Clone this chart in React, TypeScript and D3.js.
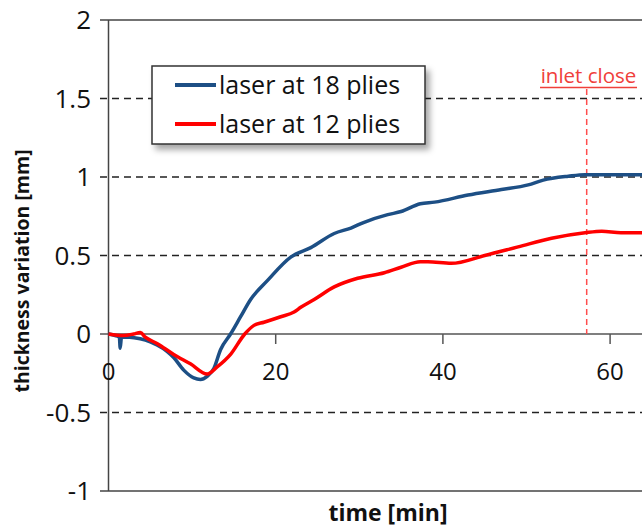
import React from "react";
import * as d3 from "d3";

const blueT = [0, 0.8, 1.3, 1.4, 1.55, 2.5, 3.8, 5, 5.8, 7, 7.8, 9, 10.2, 11, 11.8, 12.6, 13.4, 14.6, 15.8, 17, 19, 21.8, 24.2, 27, 29, 30.5, 33.4, 35, 37.3, 39, 43, 47, 50.2, 52, 55, 57, 60, 62.9, 66];
const blueV = [0, -0.01, -0.02, -0.09, -0.02, -0.02, -0.03, -0.05, -0.07, -0.11, -0.15, -0.23, -0.28, -0.29, -0.27, -0.22, -0.1, 0, 0.11, 0.22, 0.34, 0.49, 0.55, 0.64, 0.675, 0.71, 0.76, 0.78, 0.83, 0.84, 0.885, 0.92, 0.95, 0.98, 1.005, 1.015, 1.015, 1.015, 1.015];

const redT = [0, 1.8, 3, 3.8, 4.4, 5.8, 7.8, 9.8, 11.8, 13, 14.6, 16.3, 17.4, 18.6, 20.6, 22.2, 23, 24.6, 27, 29.8, 33, 35, 37.3, 38.2, 41, 45, 49, 53, 57, 59, 61.3, 63.7, 66];
const redV = [0, -0.01, 0, 0.01, -0.02, -0.06, -0.13, -0.19, -0.255, -0.21, -0.13, 0, 0.055, 0.075, 0.11, 0.14, 0.17, 0.22, 0.3, 0.355, 0.39, 0.425, 0.46, 0.46, 0.45, 0.5, 0.555, 0.61, 0.645, 0.655, 0.645, 0.645, 0.64];

const yTicks = [-1, -0.5, 0, 0.5, 1, 1.5, 2];
const yTickLabels = ["-1", "-0.5", "0", "0.5", "1", "1.5", "2"];
const xTicks = [0, 20, 40, 60];
const dashedLevels = [-0.5, 0.5, 1, 1.5];
const inletTime = 57.2;
const seriesNames = ["laser at 18 plies", "laser at 12 plies"];

const FONT = "'Open Sans', sans-serif";

export default function App() {
  const W = 642;
  const H = 530;
  const x = d3.scaleLinear().domain([0, 70]).range([108.5, 108.5 + 70 * 8.36]);
  const y = d3.scaleLinear().domain([-1, 2]).range([491, 20]);
  const line = d3
    .line<[number, number]>()
    .x((d) => x(d[0]))
    .y((d) => y(d[1]))
    .curve(d3.curveMonotoneX);
  const blue: [number, number][] = blueT.map((t, i) => [t, blueV[i]]);
  const red: [number, number][] = redT.map((t, i) => [t, redV[i]]);
  const x0 = x(0);
  return (
    <svg width={W} height={H} style={{ position: "absolute", left: 0, top: 0, background: "#fff" }}>
      <defs>
        <filter id="shadow" x="-10%" y="-20%" width="130%" height="160%">
          <feDropShadow dx="4" dy="5" stdDeviation="3" floodColor="#000" floodOpacity="0.35" />
        </filter>
      </defs>
      {dashedLevels.map((v) => (
        <line key={v} x1={100} x2={W} y1={y(v)} y2={y(v)} stroke="#222" strokeWidth={1.3} strokeDasharray="7,5" />
      ))}
      <line x1={100} x2={W} y1={y(2)} y2={y(2)} stroke="#444" strokeWidth={1.5} />
      <line x1={100} x2={W} y1={y(-1)} y2={y(-1)} stroke="#444" strokeWidth={1.5} />
      <line x1={100} x2={W} y1={y(0)} y2={y(0)} stroke="#555" strokeWidth={1.5} />
      {xTicks.filter((t) => t > 0).map((t) => (
        <line key={t} x1={x(t)} x2={x(t)} y1={y(0)} y2={y(0) + 10} stroke="#555" strokeWidth={1.5} />
      ))}
      <line x1={x0} x2={x0} y1={y(2)} y2={y(-1)} stroke="#444" strokeWidth={1.5} />
      {yTicks.map((v, i) => (
        <text key={v} x={91} y={y(v)} dy="0.36em" textAnchor="end" fontFamily={FONT} fontSize={26} fill="#111">
          {yTickLabels[i]}
        </text>
      ))}
      {xTicks.map((t) => (
        <text key={t} x={x(t)} y={380} textAnchor="middle" fontFamily={FONT} fontSize={24} fill="#111">
          {t}
        </text>
      ))}
      <line x1={x(inletTime)} x2={x(inletTime)} y1={89} y2={y(0)} stroke="#ff4d4d" strokeWidth={1.5} strokeDasharray="6,4" />
      <text x={588.5} y={83} textAnchor="middle" fontFamily={FONT} fontSize={20.5} fill="#f0403a">
        inlet close
      </text>
      <line x1={540} x2={637} y1={87.5} y2={87.5} stroke="#f0403a" strokeWidth={1.5} />
      <path d={line(blue) || ""} fill="none" stroke="#1d4f85" strokeWidth={3.5} strokeLinejoin="round" />
      <path d={line(red) || ""} fill="none" stroke="#ff0000" strokeWidth={3.5} strokeLinejoin="round" />
      <rect x={152} y={66} width={273} height={78} fill="#fff" stroke="#333" strokeWidth={1.5} filter="url(#shadow)" />
      <line x1={175} x2={216} y1={85} y2={85} stroke="#1d4f85" strokeWidth={4} />
      <line x1={175} x2={216} y1={124} y2={124} stroke="#ff0000" strokeWidth={4} />
      <text x={219} y={94} fontFamily={FONT} fontSize={25} fill="#111">{seriesNames[0]}</text>
      <text x={219} y={133} fontFamily={FONT} fontSize={25} fill="#111">{seriesNames[1]}</text>
      <text x={388} y={521} textAnchor="middle" fontFamily={FONT} fontSize={23} fontWeight="bold" fill="#111">
        time [min]
      </text>
      <text transform={`translate(29,271) rotate(-90)`} textAnchor="middle" fontFamily={FONT} fontSize={19.5} fontWeight="bold" fill="#111">
        thickness variation [mm]
      </text>
    </svg>
  );
}
